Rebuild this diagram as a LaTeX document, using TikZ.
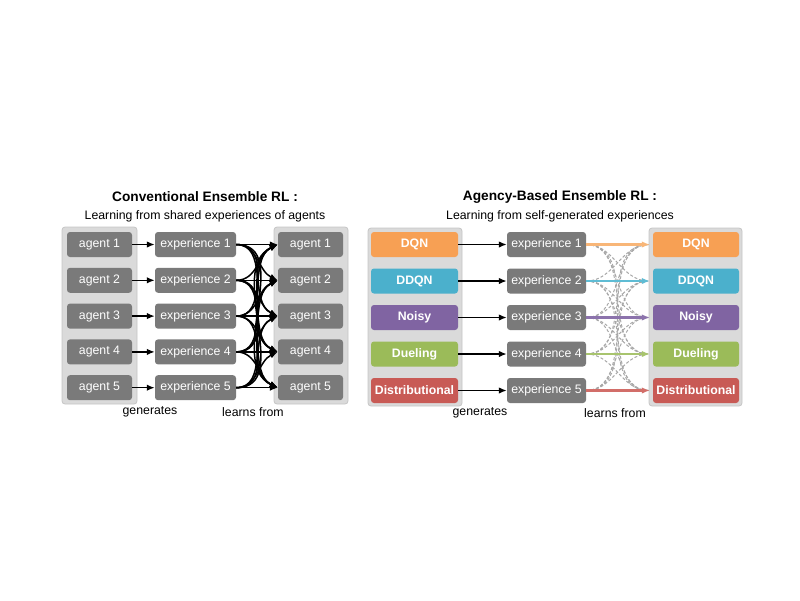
\documentclass[tikz,border=0pt]{standalone}
\usepackage{fontspec}
\setmainfont{Liberation Sans}
\usetikzlibrary{arrows.meta}
\definecolor{boxgray}{RGB}{122,122,122}
\definecolor{contfill}{RGB}{218,218,218}
\definecolor{contdraw}{RGB}{198,198,198}
\definecolor{cdqn}{RGB}{247,160,84}
\definecolor{cddqn}{RGB}{75,176,204}
\definecolor{cnoisy}{RGB}{128,100,162}
\definecolor{cdueling}{RGB}{155,187,89}
\definecolor{cdist}{RGB}{200,90,85}
\definecolor{adqn}{RGB}{248,182,120}
\definecolor{addqn}{RGB}{95,188,212}
\definecolor{anoisy}{RGB}{140,115,172}
\definecolor{adueling}{RGB}{168,196,110}
\definecolor{adist}{RGB}{210,110,105}
\definecolor{dashgray}{RGB}{168,168,168}
\begin{document}
\begin{tikzpicture}[x=1pt,y=-1pt,
  container/.style={draw=contdraw, fill=contfill, rounded corners=3pt, line width=0.8pt, inner sep=0pt},
  graybox/.style={fill=boxgray, rounded corners=3pt, text=white, inner sep=0pt, minimum height=25pt, font=\fontsize{12.3}{14}\selectfont},
  colbox/.style={fill=#1, rounded corners=3pt, text=white, inner sep=0pt, minimum height=25pt, font=\bfseries\fontsize{12.3}{14}\selectfont},
  titletext/.style={font=\bfseries\fontsize{13.7}{16}\selectfont, inner sep=0pt},
  subtext/.style={font=\fontsize{12.3}{14}\selectfont, inner sep=0pt},
  genarrow/.style={-{Latex[length=8pt,width=6.5pt]}, line width=1.5pt, black},
  colarrow/.style={-{Latex[length=8pt,width=6.5pt]}, line width=2.4pt, draw=#1, fill=#1},
  dasharrow/.style={dashgray, dash pattern=on 3pt off 2pt, line width=1pt}
]
\useasboundingbox (0,0) rectangle (800,600);

% ---------- Left panel ----------
\node[titletext] (ltitle) at (205,197) {Conventional Ensemble RL :};
\node[subtext] (lsub) at (205,216) {Learning from shared experiences of agents};

\node[container, minimum width=75pt, minimum height=177pt] (lcontA) at (99.5,315.5) {};
\node[container, minimum width=74pt, minimum height=177pt] (lcontB) at (311,315.5) {};

\foreach \i/\y in {1/244.5,2/280.3,3/316.1,4/351.9,5/387.7} {
  \node[graybox, minimum width=65pt] (la\i) at (99.5,\y) {agent \i};
  \node[graybox, minimum width=81pt] (le\i) at (195.5,\y) {experience \i};
  \node[graybox, minimum width=65pt] (lb\i) at (310.5,\y) {agent \i};
  \draw[genarrow] (la\i.east) -- (le\i.west);
}
\foreach \i in {1,...,5} {
  \foreach \j in {1,...,5} {
    \ifnum\i=\j
      \draw[genarrow] (le\i.east) -- (lb\j.west);
    \else
      \ifnum\j<\i
        \draw[genarrow] (le\i.east) to[out=0,in=205] (lb\j.west);
      \else
        \draw[genarrow] (le\i.east) to[out=0,in=155] (lb\j.west);
      \fi
    \fi
  }
}
\node[subtext] (lgen) at (150,412) {generates};
\node[subtext] (llearn) at (253,412) {learns from};

% ---------- Right panel ----------
\node[titletext] (rtitle) at (560,197) {Agency-Based Ensemble RL :};
\node[subtext] (rsub) at (560,216) {Learning from self-generated experiences};

\node[container, minimum width=94pt, minimum height=178pt] (rcontA) at (415,317) {};
\node[container, minimum width=93pt, minimum height=178pt] (rcontB) at (695.5,317) {};

\foreach \i/\y/\c/\t in {1/244.5/cdqn/DQN,2/281/cddqn/DDQN,3/317.5/cnoisy/Noisy,4/354/cdueling/Dueling,5/390.5/cdist/Distributional} {
  \node[colbox=\c, minimum width=87pt] (ra\i) at (414.5,\y) {\t};
  \node[graybox, minimum width=79pt] (re\i) at (546.5,\y) {experience \i};
  \node[colbox=\c, minimum width=86pt] (rb\i) at (696,\y) {\t};
  \draw[genarrow] (ra\i.east) -- (re\i.west);
}
\foreach \i in {1,...,5} {
  \foreach \j in {1,...,5} {
    \ifnum\i=\j\else
      \draw[dasharrow] (re\i.east) to[out=0,in=180] ([xshift=-4pt]rb\j.west);
    \fi
  }
}
\foreach \i/\c in {1/adqn,2/addqn,3/anoisy,4/adueling,5/adist} {
  \draw[colarrow=\c, shorten >=3pt] (re\i.east) -- (rb\i.west);
}
\node[subtext] (rgen) at (480,413) {generates};
\node[subtext] (rlearn) at (615,413) {learns from};
\end{tikzpicture}
\end{document}
